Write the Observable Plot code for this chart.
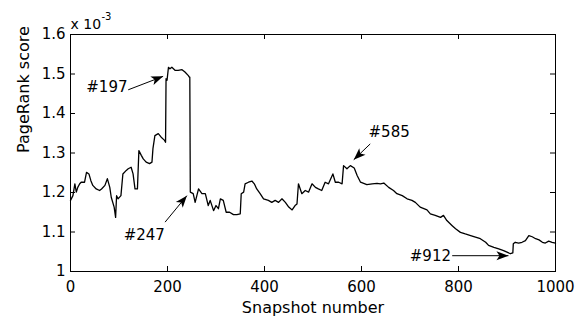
<!DOCTYPE html>
<html>
<head>
<meta charset="utf-8">
<script src="https://cdn.jsdelivr.net/npm/d3@7"></script>
<script src="https://cdn.jsdelivr.net/npm/@observablehq/plot@0.6"></script>
<style>
  html, body { margin: 0; padding: 0; background: white; }
</style>
</head>
<body>
<script>
// Snapshot index and PageRank score (x 10^-3)
const snapshot = [0,5,9,12,15,19,22,29,33,38,42,46,53,60,64,71,76,81,84,90,93,95,98,104,108,115,119,125,129,133,138,141,146,150,156,163,168,170,174,181,187,194,196,197,199,202,205,209,216,222,230,236,243,245,246,247,253,257,264,271,278,284,288,295,300,305,309,315,321,328,336,343,350,352,357,360,367,374,379,384,391,398,408,415,422,429,436,443,450,457,463,467,470,477,484,491,498,505,511,518,525,532,541,546,553,560,563,570,577,585,591,598,611,622,632,639,646,656,666,673,684,694,704,711,721,735,742,752,763,769,776,787,794,804,814,825,835,845,856,862,873,883,893,900,907,912,913,917,924,931,938,945,952,959,966,973,979,986,993,1000];
const score = [1.180,1.192,1.222,1.201,1.213,1.222,1.226,1.226,1.251,1.247,1.230,1.218,1.209,1.205,1.209,1.218,1.235,1.213,1.188,1.163,1.137,1.192,1.184,1.192,1.247,1.256,1.260,1.264,1.247,1.209,1.209,1.306,1.294,1.285,1.277,1.273,1.277,1.311,1.344,1.349,1.340,1.332,1.327,1.488,1.484,1.517,1.513,1.517,1.509,1.509,1.511,1.505,1.496,1.492,1.492,1.201,1.197,1.175,1.209,1.197,1.197,1.167,1.180,1.154,1.167,1.159,1.184,1.180,1.150,1.150,1.144,1.144,1.146,1.197,1.201,1.222,1.226,1.229,1.222,1.209,1.197,1.184,1.180,1.175,1.180,1.175,1.184,1.175,1.163,1.156,1.167,1.171,1.222,1.197,1.205,1.201,1.222,1.213,1.209,1.205,1.226,1.222,1.247,1.226,1.226,1.222,1.268,1.260,1.268,1.262,1.243,1.226,1.220,1.222,1.223,1.222,1.224,1.213,1.205,1.197,1.192,1.184,1.180,1.175,1.163,1.156,1.146,1.142,1.137,1.142,1.129,1.116,1.108,1.099,1.095,1.091,1.087,1.083,1.074,1.066,1.061,1.057,1.053,1.049,1.045,1.047,1.070,1.074,1.072,1.074,1.078,1.091,1.088,1.083,1.080,1.074,1.072,1.077,1.074,1.072];

const xTicks = [0,200,400,600,800,1000];
const yTicks = [1.0,1.1,1.2,1.3,1.4,1.5,1.6];

// Annotations
const annotLabel = ["#197","#247","#585","#912"];
const annotTextX = [75,152,657,742];
const annotTextY = [1.466,1.091,1.352,1.038];
const arrowFromX = [119,195,618,787];
const arrowFromY = [1.460,1.125,1.323,1.040];
const arrowToX   = [191,240,584,903];
const arrowToY   = [1.494,1.192,1.283,1.040];

const series = snapshot.map((s, i) => ({s, v: score[i]}));
const annots = annotLabel.map((label, i) => ({
  label, tx: annotTextX[i], ty: annotTextY[i],
  x1: arrowFromX[i], y1: arrowFromY[i], x2: arrowToX[i], y2: arrowToY[i]
}));

const W = 583, H = 318;
const mT = 34, mR = 28, mB = 47, mL = 70;
const fW = W - mL - mR, fH = H - mT - mB;
const xDom = [0, 1000], yDom = [1.0, 1.6];
const tk = 5; // tick length in px
const tkX = (xDom[1] - xDom[0]) * tk / fW;
const tkY = (yDom[1] - yDom[0]) * tk / fH;

const chart = Plot.plot({
  width: W, height: H,
  marginTop: mT, marginRight: mR, marginBottom: mB, marginLeft: mL,
  style: {fontFamily: "DejaVu Sans", fontSize: "15px", color: "black", background: "white"},
  x: {domain: xDom},
  y: {domain: yDom},
  marks: [
    Plot.ruleX(xTicks, {x: d => d, y1: yDom[0], y2: yDom[0] + tkY, stroke: "black"}),
    Plot.ruleX(xTicks, {x: d => d, y1: yDom[1], y2: yDom[1] - tkY, stroke: "black"}),
    Plot.ruleY(yTicks, {y: d => d, x1: xDom[0], x2: xDom[0] + tkX, stroke: "black"}),
    Plot.ruleY(yTicks, {y: d => d, x1: xDom[1], x2: xDom[1] - tkX, stroke: "black"}),
    Plot.axisX({ticks: xTicks, tickSize: 0, tickPadding: 10, label: null, fontSize: 15,
      tickFormat: d => String(d)}),
    Plot.axisY({ticks: yTicks, tickSize: 0, tickPadding: 5, label: null, fontSize: 15,
      tickFormat: d => String(+d.toFixed(1))}),
    Plot.line(series, {x: "s", y: "v", stroke: "black", strokeWidth: 1.3}),
    Plot.link(annots, {x1: "x1", y1: "y1", x2: "x2", y2: "y2", stroke: "black", strokeWidth: 1}),
    Plot.text(annots, {x: "tx", y: "ty", text: "label", fontSize: 15}),
    Plot.frame({stroke: "black", strokeWidth: 1}),
    Plot.text(["x 10"], {frameAnchor: "top-left", textAnchor: "start", lineAnchor: "bottom", dx: 0, dy: -6, fontSize: 14}),
    Plot.text(["-3"], {frameAnchor: "top-left", textAnchor: "start", lineAnchor: "bottom", dx: 31, dy: -15, fontSize: 10}),
    Plot.text(["Snapshot number"], {frameAnchor: "bottom", lineAnchor: "bottom", dy: 41, fontSize: 16}),
    Plot.text(["PageRank score"], {frameAnchor: "left", rotate: -90, dx: -47, fontSize: 16})
  ]
});

// arrowheads
const ns = "http://www.w3.org/2000/svg";
const defs = document.createElementNS(ns, "defs");
const marker = document.createElementNS(ns, "marker");
marker.setAttribute("id", "ah");
marker.setAttribute("viewBox", "-13 -6 14 12");
marker.setAttribute("refX", "0");
marker.setAttribute("refY", "0");
marker.setAttribute("markerWidth", "14");
marker.setAttribute("markerHeight", "12");
marker.setAttribute("markerUnits", "userSpaceOnUse");
marker.setAttribute("orient", "auto");
const mp = document.createElementNS(ns, "path");
mp.setAttribute("d", "M0,0 L-12,-4.5 L-9,0 L-12,4.5 Z");
mp.setAttribute("fill", "black");
marker.appendChild(mp);
defs.appendChild(marker);
chart.insertBefore(defs, chart.firstChild);
chart.querySelectorAll('g[aria-label="link"] path').forEach(p => p.setAttribute("marker-end", "url(#ah)"));

document.body.appendChild(chart);
</script>
</body>
</html>
